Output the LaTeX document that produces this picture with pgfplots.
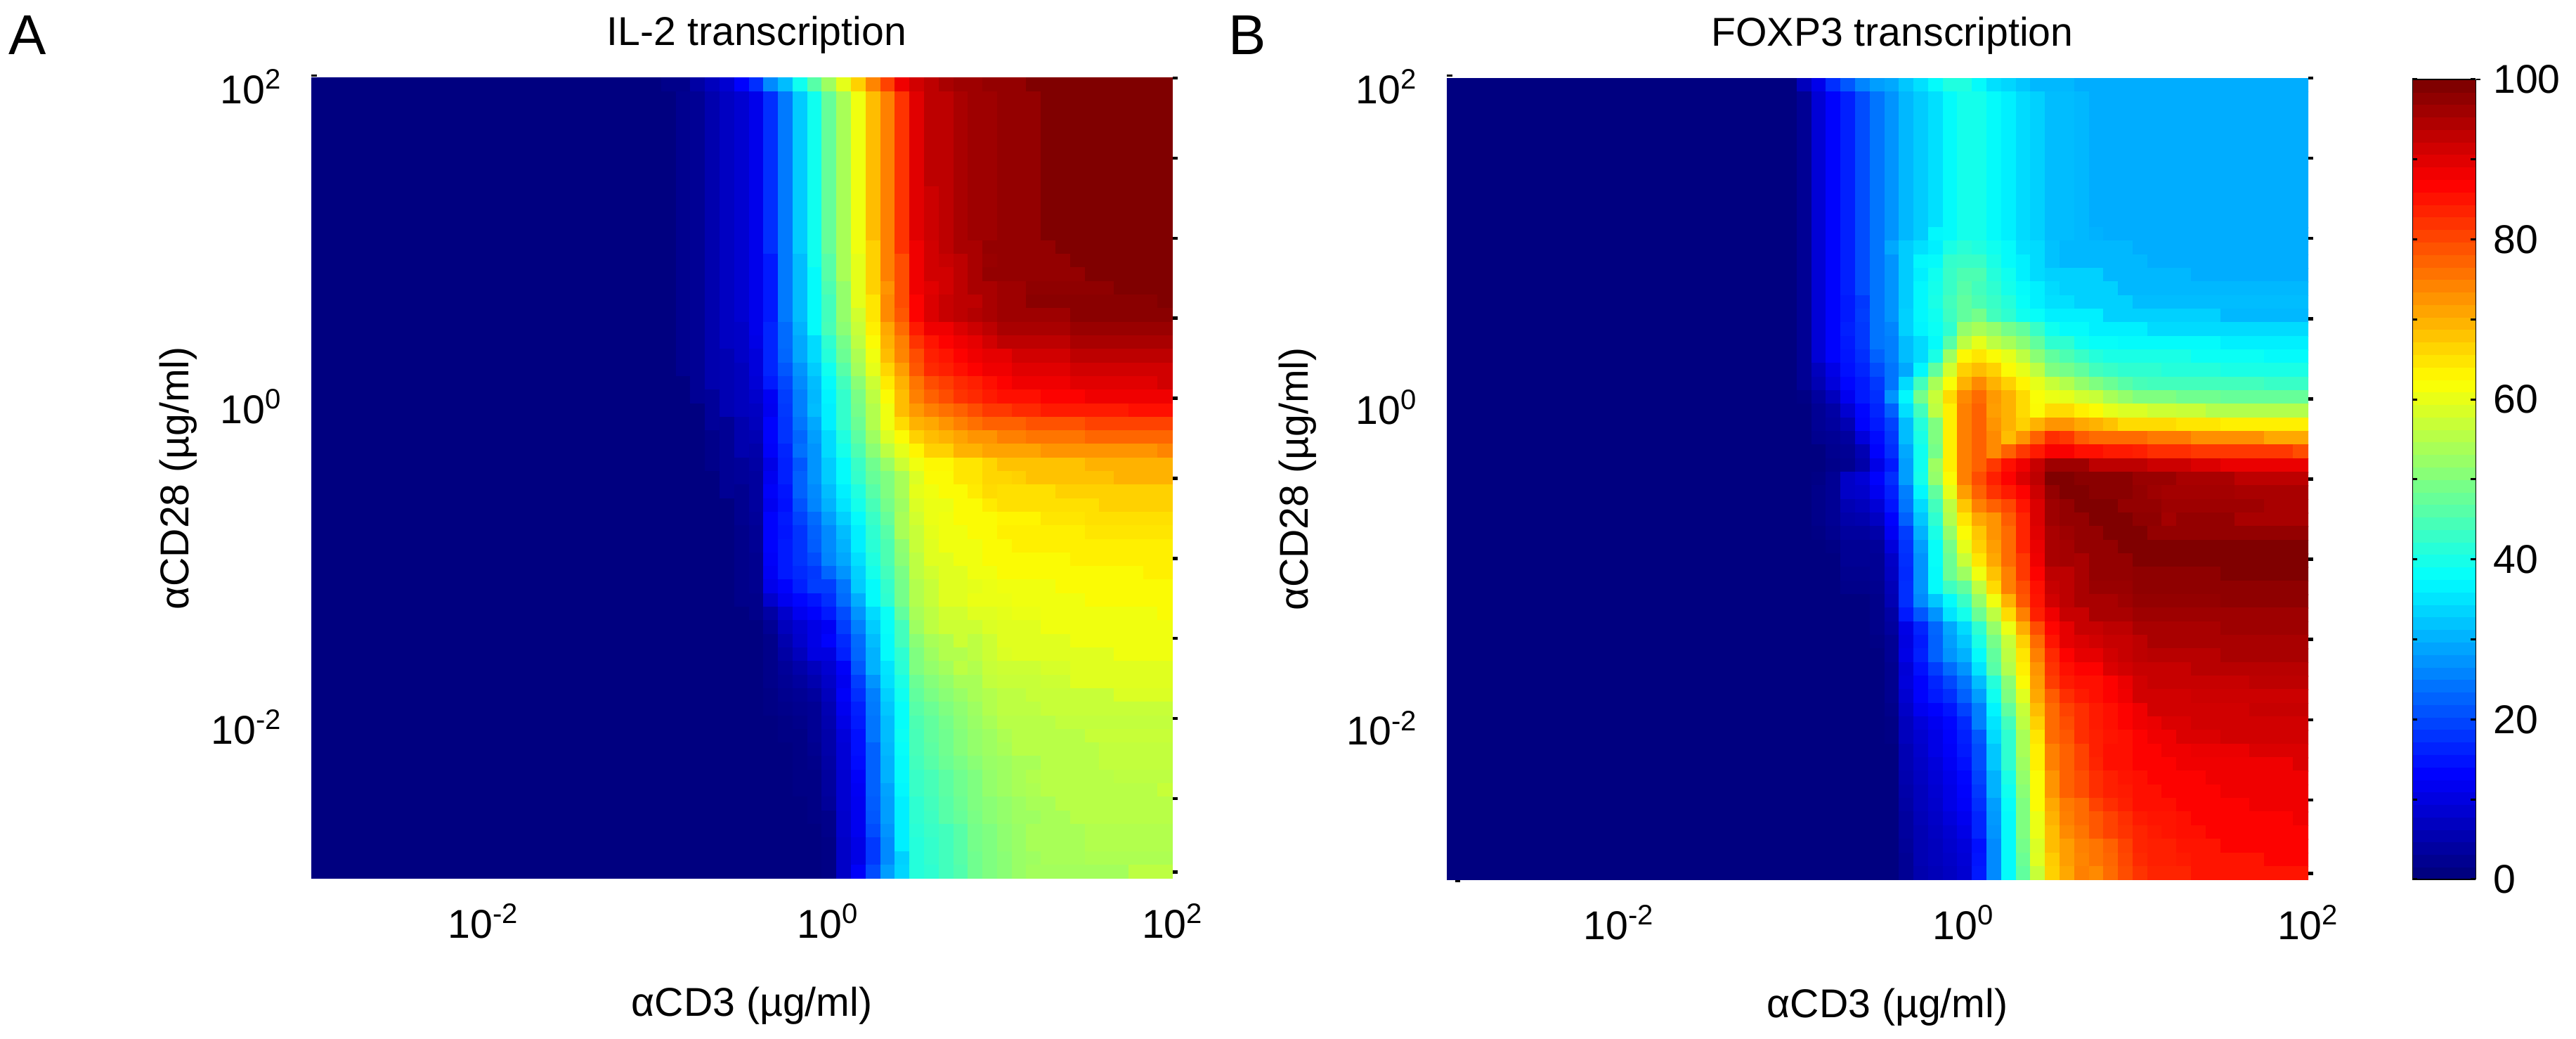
\documentclass[border=0pt]{standalone}
\usepackage{pgfplots}
\usepackage{fontspec}
\setmainfont{Liberation Sans}
\pgfplotsset{compat=1.18}
\newcommand\fs{\fontsize{14.3}{17}\selectfont}
\newcommand\tenp[1]{10\textsuperscript{#1}}
% one row: top edge (row number from the top), then values of columns 24,25,...; the last value repeats up to column 58
\def\pts{}
\newcommand\Rw[2]{%
  \pgfmathtruncatemacro\yy{59-#1}%
  \xdef\pts{\pts (0,\yy) [0]}%
  \foreach \v [count=\i from 24] in {#2}{\xdef\pts{\pts (\i,\yy) [\v]}\xdef\lastv{\v}\xdef\lasti{\i}}%
  \ifnum\lasti<58
    \pgfmathtruncatemacro\nexti{\lasti+1}%
    \foreach \i in {\nexti,...,58}{\xdef\pts{\pts (\i,\yy) [\lastv]}}%
  \fi
  \xdef\pts{\pts (59,\yy) [0]}%
}
\Rw{0}{1,1,3.5,6,8,12.5,17,26,31,39,46,53,60,67,74.5,81,89,92,94,96,97,97,98,98,98,100}
\Rw{1}{0,1.5,2,4.5,6.5,8,10.5,17,24.5,32.5,39,47.5,54,61,69,75,82.5,90.5,94,94,96,97,97,98,98,98,100}
\Rw{8}{0,1.5,2,4.5,6.5,8,10.5,17,24.5,32.5,39,47.5,54,61,69,75,82.5,90.5,92.5,94,96,97,97,98,98,98,100}
\Rw{12}{0,1.5,2,4.5,6.5,8,10.5,17,24.5,32.5,39,47.5,54,61,67,75,82.5,89,92,94,96,96,98,98,98,98,98,100}
\Rw{13}{0,1.5,2,4.5,6.5,8,10.5,15,24.5,31,39,46,54,60,67,75,80,89,92,93,94,96,97.5,98,98,98,98,98,100}
\Rw{14}{0,1.5,2,4.5,6.5,8,10.5,15,24.5,31,37.5,46,54,60,67,75,80,89,92,92,94,96,98,98,98,98,98,98,98,100}
\Rw{15}{0,1.5,2,4.5,6.5,8,10.5,15,24.5,31,37.5,45,52,60,67,73,80,89,90.5,92,94,96,96,97,97,98.5,98.5,98.5,98.5,98.5,98.5,100}
\Rw{16}{0,1.5,2,4.5,6.5,8,10.5,15,24.5,31,37.5,44,52,60,65,74,80,87.5,91,93,94,94,96,97,97,99,99,99,99,99,99,99,99,99,100}
\Rw{17}{0,1.5,2,4.5,6.5,8,10.5,15,24.5,31,37.5,44,52,58,65,74,79,87.5,91,93,94,95,96,97,97,97,97,97,99}
\Rw{18}{0,1.5,2,4.5,6.5,7,10.5,16,23,30,37.5,44.5,51,57,64,71,77,85,89,89,91,92.5,94,96,96,96,96,96,97.5}
\Rw{19}{0,1.5,2,4.5,6.5,7,10,16,23,29,34,42,49,56,62.5,70,75,82.5,85.5,87.5,89,90,92,94,94,94,94,94,96}
\Rw{20}{0,1.5,2,4.5,5,7,9,16,22.5,29,34,41,48,54.5,61,69,74.5,80,84.5,85.5,87.5,89,90,90,92,92,92,92,94}
\Rw{21}{0,1.5,2,4.5,5,6,9,16,21,27,32.5,39,46,53.5,60,66.5,72,79,83.5,84.5,86,87.5,89,89,90.5,90.5,90.5,90.5,92}
\Rw{22}{0,0,2,4.5,5,6,8.5,15,19.5,26,31,37.5,44,51,57.5,64.5,70,76,80,81.5,83.5,84.5,86,87.5,89,89,89,89,90.5,90.5,90.5,90.5,90.5,90.5,92}
\Rw{23}{0,0,2,2.5,5,6,7.5,11.5,18.5,25,30.5,36.5,42.5,49.5,56,62.5,69,75,78,80,82.5,83.5,85,86,86,86,87.5,87.5,87.5,89}
\Rw{24}{0,0,0,2.5,5,6,6.5,11,18,25,31,36,42.5,49,55,61,69,72.5,75,76.5,78,80,82,82,83.5,83.5,85,85,85,85,85,85,86}
\Rw{25}{0,0,0,2.5,2,4.5,6,12.5,17.5,24,29,36,42.5,48,55,61,66,70,71,73,75,76.5,78,78,78,79.5,79.5,79.5,79.5,81}
\Rw{26}{0,0,0,1,2,4.5,5,12.5,17.5,22.5,28,34,40.5,46.5,53,59,62.5,67,69,70,71.5,73,73,75,75,76,76,76,76,77.5}
\Rw{27}{0,0,0,1,2,4.5,4,12,16,23.5,27,34,39.5,45,51,56,60,63.5,67,67,70,70,71.5,71.5,71.5,71.5,73,73,73,73,73,73,73,73,74.5}
\Rw{28}{0,0,0,1,2,2.5,3.5,10,15.5,21,27,32.5,37.5,43,48.5,52.5,57.5,61,63,63,65,65,66.5,68.5,68.5,68.5,68.5,68.5,68.5,70}
\Rw{29}{0,0,0,0,2,2.5,3,11,15.5,22,27,32.5,37.5,42.5,47.5,50,54,59,62.5,62.5,65,65,66.5,66.5,67,68.5,68.5,68.5,68.5,68.5,68.5,70}
\Rw{30}{0,0,0,0,2,1.5,3,12,14.5,22,26,31,36,40.5,46,50,54,60,61,62.5,62.5,64.5,66,65.5,65.5,65.5,65.5,67}
\Rw{31}{0,0,0,0,0,1.5,3,11,14,20.5,25.5,30,35,39.5,44.5,49,53,59,60.5,60.5,62.5,62.5,64.5,65.5,65.5,65.5,65.5,65.5,65.5,65.5,67}
\Rw{32}{0,0,0,0,0,1.5,2.5,12.5,15,19,23,28,33,37.5,43,47.5,54,58,60.5,61,62.5,62.5,62.5,63.5,63.5,63.5,65,65,65,65.5}
\Rw{33}{0,0,0,0,0,1,2,12.5,14.5,17.5,22,26,31,36,42,46,54,57,60,61,61,62.5,62.5,64,64,64,64,64,64,65}
\Rw{34}{0,0,0,0,0,1,2,12.5,15,17.5,21.5,26,30,36,41.5,45,51.5,57,59.5,61,61,61,62.5,62.5,64}
\Rw{35}{0,0,0,0,0,1,1.5,12,15,17.5,20,25.5,29,34.5,40.5,45,51,56,59.5,59.5,61,61,62.5,62.5,62.5,62.5,62.5,62.5,64}
\Rw{36}{0,0,0,0,0,1,1.5,11.5,15,16.5,18,22.5,27,33,39.5,44,49.5,56,58,59.5,59.5,61,61,62.5,62.5,62.5,62.5,62.5,62.5,62.5,62.5,62.5,62.5,64}
\Rw{37}{0,0,0,0,0,1,1.5,10.5,12.5,15.5,18.5,18.5,24,32.5,37.5,42.5,49,55,57,59.5,59.5,60,60.5,61,61,61,61,62.5}
\Rw{38}{0,0,0,0,0,1,1,7.5,11,13,14.5,17,23,29.5,37.5,42,49,55,57,59.5,59.5,60.5,60.5,60.5,61,61,61,61,61,62.5}
\Rw{39}{0,0,0,0,0,0,1,3.5,7.5,11,12.5,15,20,27,34,38.5,47,54,56,58,58,59.5,59.5,60,60.5,60.5,61,61,61,61,61,61,61,61,62.5}
\Rw{40}{0,0,0,0,0,0,0,2,6,8,10,11.5,18.5,25,32.5,38,44,53,56,57.5,57.5,57.5,59,59.5,59.5,59.5,61}
\Rw{41}{0,0,0,0,0,0,0,1,4.5,7.5,10,12.5,16.5,23,31,37.5,44,51,54,55,57.5,56,57.5,59.5,59.5,59.5,59.5,59.5,61}
\Rw{42}{0,0,0,0,0,0,0,1,3.5,6,9.5,9.5,15.5,22.5,30,37.5,42,50,53,55,55,56,57.5,59,59.5,59.5,59.5,59.5,59.5,59.5,59.5,61}
\Rw{43}{0,0,0,0,0,0,0,1,2.5,4,6,8,12,21,30,35,41.5,50,52,53.5,56,55,57,57.5,57.5,57.5,58.5,58.5,59.5}
\Rw{44}{0,0,0,0,0,0,0,1,2,3,4.5,7,11,18.5,27,34.5,40,48,50.5,52,54,54,56.5,57,57,57,57.5,57.5,59.5}
\Rw{45}{0,0,0,0,0,0,0,0.5,1.5,2,3,6,12,17,25,33,39,47,49.5,51,52.5,54,55,56,56,57,57,57,57,57,57,59}
\Rw{46}{0,0,0,0,0,0,0,0.5,1,1.5,2,5,11,15.5,24.5,32,38,46,48,50,51.5,53,55,56,56,56,57}
\Rw{47}{0,0,0,0,0,0,0,0,0.5,1,2,4.5,10,15,24,31,38,45,47,49,51,52.5,54,55.5,55.5,55.5,55.5,56.5}
\Rw{48}{0,0,0,0,0,0,0,0,0.5,0.5,2,4,9,14,24,31,38.5,44.5,47,48.5,50.5,52,53,54.5,55.5,55.5,55.5,55.5,55.5,57}
\Rw{49}{0,0,0,0,0,0,0,0,0,0.5,1.5,4,8.5,14,22,30.5,38,44.5,46.5,48.5,50.5,52,53,54,55.5,55.5,55.5,55.5,55.5,55.5,56.5}
\Rw{50}{0,0,0,0,0,0,0,0,0,0.5,1,3.5,8.5,13.5,22,30,37.5,44,46,48,49.5,51,52.5,53,54,54,55.5,55.5,55.5,55.5,56.5}
\Rw{51}{0,0,0,0,0,0,0,0,0,0.5,0.5,3,8,12,22,30,37.5,43,44.5,46.5,48.5,50,52,53,54,55,55.5,55.5,55.5,55.5,55.5,56}
\Rw{52}{0,0,0,0,0,0,0,0,0,0.5,0.5,3,8,11.5,22,28.5,37,43,44.5,46.5,48.5,50,52,53,54,54.5,55.5,55.5,55.5,55.5,55.5,55.5,55.5,55.5,57}
\Rw{53}{0,0,0,0,0,0,0,0,0,0,0.5,2.5,8,11,21.5,28,36,42,44,46,48,50,51,52,53,54,54,55.5}
\Rw{54}{0,0,0,0,0,0,0,0,0,0,0.5,1,7.5,11,21,28,36,42,43.5,46,47.5,49.5,51,52,53,53,54,54,55.5}
\Rw{55}{0,0,0,0,0,0,0,0,0,0,0,1,7.5,11,20,27,36,41.5,43,44,46,49,50,51.5,52.5,54,54,54,54,55}
\Rw{56}{0,0,0,0,0,0,0,0,0,0,0,0.5,7,10,18,26,36,41,42.5,44,46,49,50,51.5,52.5,54,54,54,54,55}
\Rw{57}{0,0,0,0,0,0,0,0,0,0,0,0.5,7,10,18,26,33,41,42.5,44,46,48.5,50,51,52.5,53,54,54,54,54.5}
\Rw{58}{0,0,0,0,0,0,0,0,0,0,0,0.5,7,12,20,28,33.5,41,42,44,45.5,48.5,50,51,52.5,53.5,53.5,53.5,53.5,53.5,53.5,53.5,56}
\Rw{59}{0}
\let\ptsA\pts
\gdef\pts{}
\Rw{0}{6,10.5,17,21,25.5,28,29,32,34.5,37.5,40.5,40.5,37.5,34.5,33.5,32,30.5,30.5,30.5,29.5}
\Rw{1}{2,8.5,12.5,15.5,20,24,27,30.5,32.5,34.5,37.5,39.5,39.5,37.5,36,34,33,31,31,30.5,29.5}
\Rw{11}{2,8.5,12.5,15.5,20,24,27,30.5,32.5,37,37.5,39.5,39.5,37.5,36,34,33,31,31,30.5,30,29.5}
\Rw{12}{2,8.5,12.5,15.5,20,24,29,32.5,34.5,36,40,41.5,40.5,39,37.5,34.5,34,31.5,30.5,30.5,30.5,30.5,30.5,29.5}
\Rw{13}{2,8.5,12.5,15.5,20,24,27,32.5,37,37.5,42.5,43,43,40,37.5,36,34,31.5,30.5,30.5,30.5,30.5,30.5,30.5,29.5}
\Rw{14}{2,8.5,12.5,15.5,20,24,27,32.5,36,39,43,45,45,41,39,36,34,33,33,33,33,30.5,30.5,30.5,30.5,30.5,30.5,29.5}
\Rw{15}{2,8.5,12.5,15.5,20,24,27,32.5,37,39.5,43,46,44,42,39.5,37.5,36,34,33,33,33,33,30.5}
\Rw{16}{2,8.5,12.5,15,18,24,27,32.5,37,40,44,47,45,43,41,38,36,34.5,34.5,33,33,33,33,31}
\Rw{17}{2,8.5,12.5,15,18.5,24,27,33,37,39,43.5,47,49,44,42,39,38,36,36,36,36,33,33,33,33,33,33,33,33,30.5}
\Rw{18}{2,8.5,12.5,15.5,18,24,25.5,33,36.5,38.5,42,52,54,52,49,47,43,39,37.5,37.5,36,36,36,36,34}
\Rw{19}{2,8.5,12.5,15,18,24,25,31,34,37.5,46,56,60,56,54,51,47,42,42,39,38,38,37.5,37.5,37.5,37.5,37.5,37.5,37.5,36}
\Rw{20}{2,8.5,12.5,14.5,17,22,25,31,34,40,53,63,65,62.5,60,56,51,47,45,43,41,40,40,40,40,40,40,38.5,38.5,38.5,38.5,38.5,37.5}
\Rw{21}{2,6,10,14,16,20,24,29,37,47,58,67,69,67,62.5,60,56,50,49,47,44,43,42,42,42,41,41,41,41,40}
\Rw{22}{2,5,9,13,15,18,24,34,44,54,62,70,74,70,67,63.5,60,57,55,52,50,48,46,44.5,44,44,44,44,44,44,44,44,43}
\Rw{23}{0.5,3,6,11,15,17,27,37,49,57,66,74,77,72.5,70,66,62,60.5,60,58,57,54,52,50,50,50,48.5,48.5,48.5,47.5}
\Rw{24}{0,2,3.5,8,13,16,22,34.5,44,56,64,75,78,72,70,66,62.5,66,66,64,62.5,60,59,59,57.5,57.5,57,57,55}
\Rw{25}{0,2,3,5,12.5,15,19,31,41,50,64,75,78,73,70,67,70,73,73,71,70,68.5,66,66,66,66,65,65,65,64}
\Rw{26}{0,1.5,2,3,9,13.5,18,31,40,50,64,75,78,74,69,73,78,83,82,78.5,77,77,77,77,75.5,75.5,75.5,73.5,73.5,73.5,73.5,73.5,71}
\Rw{27}{0,0,1.5,2,5,12.5,17,29,39,49,64,75,78,74,78,82,85,88,88,86,86,85,85,84.5,83,83,83,82,82,82,82,82,82,82,80}
\Rw{28}{0,0,1,1.5,4,10,15,28,39,53,64,75,78,82,86,89,93,97,97,97,94,94,94,94,92.5,92.5,92.5,91,91,89.5}
\Rw{29}{0,0.5,2,7,8.5,12.5,17,28,39.5,52,62.5,75,80,84.5,87.5,91,94,100,100,99,99,99,99,97.5,97.5,97.5,96,96,96,96,94}
\Rw{30}{0,1,2,7,7.5,11,15.5,25,37,47,60,72,78,82.5,85,87.5,92.5,98,100,100,99,99,99,98,97,96.5,96.5,96.5,96.5,96.5,96}
\Rw{31}{0,1,2,5,6,8.5,14.5,24,34,44,56,68,75,78,80.5,85.5,91,97,98,100,100,100,98,98,98,97,97,97,97,97,97,97,96}
\Rw{32}{0,1,2,4,4.5,6.5,12.5,22,32,42,55,65,71,73,78.5,84,91,97,98,98,100,100,100,98.5,98.5,96.5,98,98,98,98,96}
\Rw{33}{0,0.5,1.5,3,3,4,11.5,18.5,30,40,52,62.5,68,73,77,84,90.5,96,97,98,98,100,100,100,98}
\Rw{34}{0,0,0.5,2,2,2.5,9,17.5,28,38,49,60,67,72,77,84,89.5,96,96.5,98,98,98,100}
\Rw{35}{0,0,0,2,2,2,7,17,27,38,48,57,65,71,77,82,89,96,96.5,96,98,98,98,100}
\Rw{36}{0,0,0,1.5,1.5,2,6.5,16.5,27,37.5,48,53,61,68.5,75,82,87.5,94,94,96,98,98,98,98.5,98.5,98.5,98.5,98.5,98.5,100}
\Rw{37}{0,0,0,1,1,1.5,5.5,17,27,37.5,43.5,47,56,66,75,80,86,93,94,96,97.5,97.5,97.5,98.5}
\Rw{38}{0,0,0,0,0,1,5,17,26,32,37.5,43,52,61,70,79,85.5,92,94,96,96,96,97,98,98,98,98,98,98,98.5}
\Rw{39}{0,0,0,0,0,1,3.5,15,21,27,35,39.5,48,56,66,75,84.5,89,93,93,96,96,96,97}
\Rw{40}{0,0,0,0,0,1,3,10,16,22.5,29,34,42,52,60.5,70.5,80,87,90,93,93,94,94,96,96,96,96,96,96,97}
\Rw{41}{0,0,0,0,0,0.5,2,9.5,15,22,28,32,40,49,57,67,77,85.5,90,91,92,93,93,94,96}
\Rw{42}{0,0,0,0,0,0,2,10,15.5,22,27,30,37.5,47,56,65,75,83.5,87.5,90,90,92,93,94,94.5,94.5,94.5,94.5,94.5,96}
\Rw{43}{0,0,0,0,0,0,1.5,8.5,14,18.5,23,27,35,46,55,64,73,82.5,86,87.5,87.5,91,92,93,93,93,93,94.5}
\Rw{44}{0,0,0,0,0,0,1.5,9,12.5,16,19.5,24,31,41,51,62.5,72,81.5,85,86,86,87.5,89.5,92,93,93,93,93,93,93,93,94}
\Rw{45}{0,0,0,0,0,0,1.5,8,12.5,15,17,22,28,39,50,59.5,71,78.5,83,85,86,87.5,89,92,92,92,92,92.5}
\Rw{46}{0,0,0,0,0,0,1,7,11,12.5,14.5,19,25,36.5,47,57,69,77,81,83,85,86,87.5,89,92,92,92,92,92,92,92,93}
\Rw{47}{0,0,0,0,0,0,0.5,6,9,11,13,16.5,25,35,44,56,67,77,80,83,85,86,87.5,89,89.5,91,91,92}
\Rw{48}{0,0,0,0,0,0,0.5,6,8,10,12.5,15.5,21,34,42,54,65,77,79,83,84.5,85.5,86,87.5,89,89,91,91,91,92}
\Rw{49}{0,0,0,0,0,0,0,5,7.5,10,12,15,20,32,42,54,64,75,78,81,84.5,86,86,87.5,87.5,89,89,89.5,89.5,89.5,89.5,91}
\Rw{50}{0,0,0,0,0,0,0,5,7,9,11.5,14,20,32,42,53,64,75,78,81,84,86,86,87.5,87.5,87.5,89,89,89,89,89,89,89,89,91}
\Rw{51}{0,0,0,0,0,0,0,4.5,6.5,8.5,10.5,13,19,30,40,52,62.5,73,78,80,83,84.5,85.5,86,87.5,87.5,87.5,87.5,89}
\Rw{52}{0,0,0,0,0,0,0,4,6,8,10,12.5,18,30,39,51,62.5,73,78,80,83,84.5,85,86,86,87.5,87.5,87.5,87.5,89}
\Rw{53}{0,0,0,0,0,0,0,3.5,6,7.5,10,12,17,28,38,50,62.5,71,75.5,77,81,83,84.5,86,86,86,87.5,87.5,87.5,87.5,87.5,89}
\Rw{54}{0,0,0,0,0,0,0,3,5.5,7,9,11,16,27.5,37.5,50,60.5,70,75,77,79,81,83,85,85.5,85.5,86,87.5,87.5,87.5,87.5,87.5,87.5,87.5,89}
\Rw{55}{0,0,0,0,0,0,0,3,5,6.5,8,10,16,27,37.5,50,60.5,69,74,76,79,81,82.5,84,85,85.5,86,86,87.5}
\Rw{56}{0,0,0,0,0,0,0,2.5,5,6,7.5,9,14,26,37.5,49,59,69,72,75,76,78,81,84,84.5,84.5,85.5,85.5,85.5,87.5}
\Rw{57}{0,0,0,0,0,0,0,2,5,6,7,8.5,14.5,26,37.5,48,59.5,67.5,72,74.5,76,77.5,80.5,83.5,84.5,84.5,85,85.5,85.5,85.5,85.5,85.5,87.5}
\Rw{58}{0,0,0,0,0,0,0,2,4.5,5.5,6.5,8,15,26,37.5,47,57,67,71,75,74,77,80,82.5,84,84,84,85.5}
\Rw{59}{0}
\let\ptsB\pts
\newcommand\doheat[1]{\addplot[surf,shader=flat corner,mesh/cols=37,point meta=explicit] coordinates {#1};}
\pgfplotsset{
  colormap={jetbase}{rgb255(0cm)=(0,0,128) rgb255(1cm)=(0,0,255) rgb255(3cm)=(0,255,255) rgb255(5cm)=(255,255,0) rgb255(7cm)=(255,0,0) rgb255(8cm)=(128,0,0)},
  colormap={djet}{samples of colormap=(64 of jetbase)},
  heat/.style={
    scale only axis, width=306.5pt,
    xmin=0, xmax=59, ymin=0, ymax=59,
    point meta min=0, point meta max=100,
    axis line style={draw=none},
    axis on top,
    xtick={11.8,35.4,59},
    xticklabels={\tenp{-2},\tenp{0},\tenp{2}},
    xtick style={draw=none},
    xtick pos=bottom,
    ytick={0.5,5.9,11.8,17.7,23.6,29.5,35.4,41.3,47.2,53.1,59},
    yticklabels={,,\tenp{-2},,,,\tenp{0},,,,\tenp{2}},
    ytick pos=right, yticklabel pos=left,
    ytick style={black,line width=1.1pt},
    tick align=outside, major tick length=1.75pt,
    ticklabel style={font=\fs},
    yticklabel style={xshift=-5pt,yshift=-3pt},
    xticklabel style={yshift=-3.7pt},
    title style={font=\fs,at={(0.5,1)},anchor=center,yshift=9.2pt,xshift=5.25pt},
    xlabel style={font=\fs,at={(0.5,0)},anchor=center,yshift=-45.25pt,xshift=3.5pt},
    xlabel={αCD3 (µg/ml)},
    ylabel={αCD28 (µg/ml)},
  }
}
\begin{document}
\begin{tikzpicture}
\path[use as bounding box] (0,0) rectangle (916.5pt,369.5pt);
\begin{axis}[heat, at={(110.75pt,57pt)}, anchor=south west, height=284.75pt,
  title={IL-2 transcription},
  ylabel style={font=\fs,at={(0,0.5)},anchor=center,yshift=47.4pt}]
\expandafter\doheat\expandafter{\ptsA}
\end{axis}
\begin{axis}[heat, at={(514.75pt,56.5pt)}, anchor=south west, height=285.25pt,
  title={FOXP3 transcription},
  ylabel style={font=\fs,at={(0,0.5)},anchor=center,yshift=53pt},
  colorbar sampled,
  colorbar style={
    samples=65,
    colormap access=piecewise constant,
    at={(parent axis.south east)}, anchor=south west, xshift=28.5pt, yshift=0.25pt,
    scale only axis, width=22.5pt, height=284.5pt,
    axis line style={draw=black,line width=0.3pt},
    ytick={0,20,...,100}, minor ytick={10,30,50,70,90},
    /pgf/number format/assume math mode=true,
    yticklabel pos=right, ytick pos=both,
    tick align=inside,
    major tick length=1.75pt, minor tick length=1.75pt,
    tick style={black,line width=0.75pt},
    yticklabel style={font=\fs,anchor=west,xshift=2.75pt,yshift=0pt},
  }]
\expandafter\doheat\expandafter{\ptsB}
\end{axis}
\node[font=\fontsize{20}{24}\selectfont,anchor=base west,inner sep=0pt] at (3pt,350pt) {A};
\node[font=\fontsize{20}{24}\selectfont,anchor=base west,inner sep=0pt] at (437pt,350pt) {B};
% stray short tick stubs of the original figure
\fill (110.75pt,342.25pt) rectangle (112.75pt,343pt);
\fill (514.75pt,342.25pt) rectangle (516.75pt,343pt);
\fill (517.75pt,55.75pt) rectangle (519.5pt,56.5pt);
\fill (881pt,341.4pt) rectangle (882.5pt,341pt);
\end{tikzpicture}
\end{document}
